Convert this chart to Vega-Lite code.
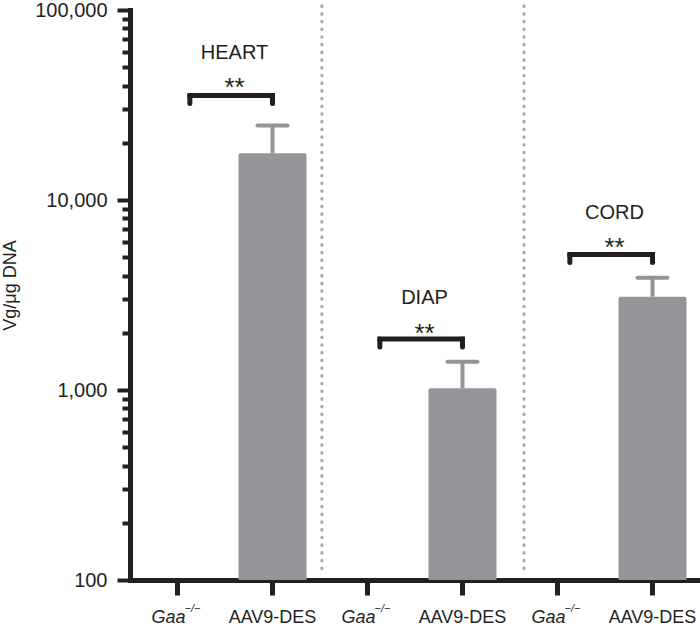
{
  "$schema": "https://vega.github.io/schema/vega-lite/v6.json",
  "width": 570,
  "height": 570,
  "autosize": {"type": "none"},
  "padding": {"left": 130, "top": 10, "right": 0, "bottom": 49},
  "config": {
    "view": {"stroke": null},
    "font": "Liberation Sans",
    "axis": {"domainWidth": 5, "domainColor": "#231f20", "tickColor": "#231f20", "domainCap": "square", "tickCap": "butt", "grid": false}
  },
  "datasets": {
    "bars": [
      {"group": "HEART AAV9-DES", "v": 17600, "hi": 24700},
      {"group": "DIAP AAV9-DES", "v": 1021, "hi": 1409},
      {"group": "CORD AAV9-DES", "v": 3097, "hi": 3899}
    ],
    "brackets": [
      {"organ": "HEART", "from": "HEART Gaa", "to": "HEART AAV9-DES", "top": 35480, "low": 32200, "star": 38700, "labelY": 59400},
      {"organ": "DIAP", "from": "DIAP Gaa", "to": "DIAP AAV9-DES", "top": 1853, "low": 1683, "star": 1972, "labelY": 3034},
      {"organ": "CORD", "from": "CORD Gaa", "to": "CORD AAV9-DES", "top": 5164, "low": 4690, "star": 5572, "labelY": 8550}
    ],
    "seps": [
      {"after": "HEART AAV9-DES", "y1": 105000, "y2": 110},
      {"after": "CORD Gaa", "y1": 105000, "y2": 110}
    ],
    "gaa": [
      {"cat": "HEART Gaa", "base": 100},
      {"cat": "DIAP Gaa", "base": 100},
      {"cat": "CORD Gaa", "base": 100}
    ]
  },
  "layer": [
    {
      "data": {"name": "bars"},
      "mark": {"type": "bar", "width": 68, "color": "#939598", "cornerRadiusTopLeft": 2, "cornerRadiusTopRight": 2},
      "encoding": {
        "x": {
          "field": "group",
          "type": "nominal",
          "sort": null,
          "scale": {
            "domain": ["HEART Gaa", "HEART AAV9-DES", "DIAP Gaa", "DIAP AAV9-DES", "CORD Gaa", "CORD AAV9-DES"],
            "paddingInner": 0,
            "paddingOuter": 0
          },
          "axis": {
            "title": null,
            "labelAngle": 0,
            "labelExpr": "indexof(datum.value, 'Gaa') >= 0 ? 'Gaa' : 'AAV9-DES'",
            "labelFontStyle": {"condition": {"test": "indexof(datum.value, 'Gaa') >= 0", "value": "italic"}, "value": "normal"},
            "labelOffset": {"condition": {"test": "indexof(datum.value, 'Gaa') >= 0", "value": -9}, "value": 0},
            "labelFont": "Liberation Sans",
            "labelFontSize": 18,
            "labelColor": "#231f20",
            "labelPadding": 13,
            "tickSize": 15,
            "tickWidth": 5,
            "tickColor": "#231f20",
            "domainWidth": 5,
            "domainColor": "#231f20",
            "domainCap": "square",
            "grid": false
          }
        },
        "y": {
          "field": "v",
          "type": "quantitative",
          "scale": {"type": "log", "domain": [100, 100000]},
          "axis": {
            "title": "Vg/μg DNA",
            "titleFont": "Liberation Sans",
            "titleFontSize": 18,
            "titleFontWeight": "normal",
            "titleColor": "#231f20",
            "titleX": -120,
            "titleY": 275,
            "titleBaseline": "middle",
            "values": [100, 200, 300, 400, 500, 600, 700, 800, 900, 1000, 2000, 3000, 4000, 5000, 6000, 7000, 8000, 9000, 10000, 20000, 30000, 40000, 50000, 60000, 70000, 80000, 90000, 100000],
            "format": ",d",
            "labelExpr": "indexof([100, 1000, 10000, 100000], datum.value) >= 0 ? datum.label : ''",
            "labelOverlap": false,
            "labelFlush": false,
            "labelFont": "Liberation Sans",
            "labelFontSize": 20,
            "labelColor": "#231f20",
            "labelPadding": 10,
            "tickSize": {"condition": {"test": "indexof([100, 1000, 10000, 100000], datum.value) >= 0", "value": 13}, "value": 8},
            "tickWidth": 4,
            "tickColor": "#231f20",
            "domainWidth": 5,
            "domainColor": "#231f20",
            "domainCap": "square",
            "grid": false
          }
        },
        "y2": {"datum": 100}
      }
    },
    {
      "data": {"name": "bars"},
      "mark": {"type": "rule", "color": "#939598", "strokeWidth": 4},
      "encoding": {
        "x": {"field": "group", "type": "nominal"},
        "y": {"field": "v", "type": "quantitative"},
        "y2": {"field": "hi"}
      }
    },
    {
      "data": {"name": "bars"},
      "mark": {"type": "tick", "orient": "horizontal", "color": "#939598", "size": 34, "thickness": 4, "cornerRadius": 2, "opacity": 1},
      "encoding": {
        "x": {"field": "group", "type": "nominal"},
        "y": {"field": "hi", "type": "quantitative"}
      }
    },
    {
      "data": {"name": "seps"},
      "transform": [{"filter": "datum.after == 'HEART AAV9-DES'"}],
      "mark": {"type": "rule", "color": "#a7a9ac", "strokeWidth": 3.2, "strokeDash": [0.5, 7.2], "strokeCap": "round"},
      "encoding": {
        "x": {"field": "after", "type": "nominal", "bandPosition": 1.02},
        "y": {"field": "y1", "type": "quantitative"},
        "y2": {"field": "y2"}
      }
    },
    {
      "data": {"name": "seps"},
      "transform": [{"filter": "datum.after == 'CORD Gaa'"}],
      "mark": {"type": "rule", "color": "#a7a9ac", "strokeWidth": 3.2, "strokeDash": [0.5, 7.2], "strokeCap": "round"},
      "encoding": {
        "x": {"field": "after", "type": "nominal", "bandPosition": 0.147},
        "y": {"field": "y1", "type": "quantitative"},
        "y2": {"field": "y2"}
      }
    },
    {
      "data": {"name": "brackets"},
      "mark": {"type": "rule", "color": "#231f20", "strokeWidth": 5, "strokeCap": "square"},
      "encoding": {
        "x": {"field": "from", "type": "nominal", "bandPosition": 0.63},
        "x2": {"field": "to", "bandPosition": 0.5},
        "y": {"field": "top", "type": "quantitative"}
      }
    },
    {
      "data": {"name": "brackets"},
      "mark": {"type": "rule", "color": "#231f20", "strokeWidth": 5, "strokeCap": "round"},
      "encoding": {
        "x": {"field": "from", "type": "nominal", "bandPosition": 0.63},
        "y": {"field": "top", "type": "quantitative"},
        "y2": {"field": "low"}
      }
    },
    {
      "data": {"name": "brackets"},
      "mark": {"type": "rule", "color": "#231f20", "strokeWidth": 5, "strokeCap": "round"},
      "encoding": {
        "x": {"field": "to", "type": "nominal", "bandPosition": 0.5},
        "y": {"field": "top", "type": "quantitative"},
        "y2": {"field": "low"}
      }
    },
    {
      "data": {"name": "brackets"},
      "mark": {"type": "text", "text": "**", "fontSize": 26, "color": "#231f20", "baseline": "middle", "align": "center", "font": "Liberation Sans"},
      "encoding": {
        "x": {"field": "to", "type": "nominal", "bandPosition": 0.1},
        "y": {"field": "star", "type": "quantitative"}
      }
    },
    {
      "data": {"name": "brackets"},
      "mark": {"type": "text", "fontSize": 20, "color": "#231f20", "baseline": "middle", "align": "center", "font": "Liberation Sans"},
      "encoding": {
        "x": {"field": "to", "type": "nominal", "bandPosition": 0.1},
        "y": {"field": "labelY", "type": "quantitative"},
        "text": {"field": "organ"}
      }
    },
    {
      "data": {"name": "gaa"},
      "mark": {"type": "text", "text": "−/−", "fontSize": 11, "fontStyle": "italic", "color": "#231f20", "baseline": "middle", "align": "center", "dx": 15, "dy": 29, "font": "Liberation Sans"},
      "encoding": {
        "x": {"field": "cat", "type": "nominal"},
        "y": {"field": "base", "type": "quantitative"}
      }
    }
  ]
}
